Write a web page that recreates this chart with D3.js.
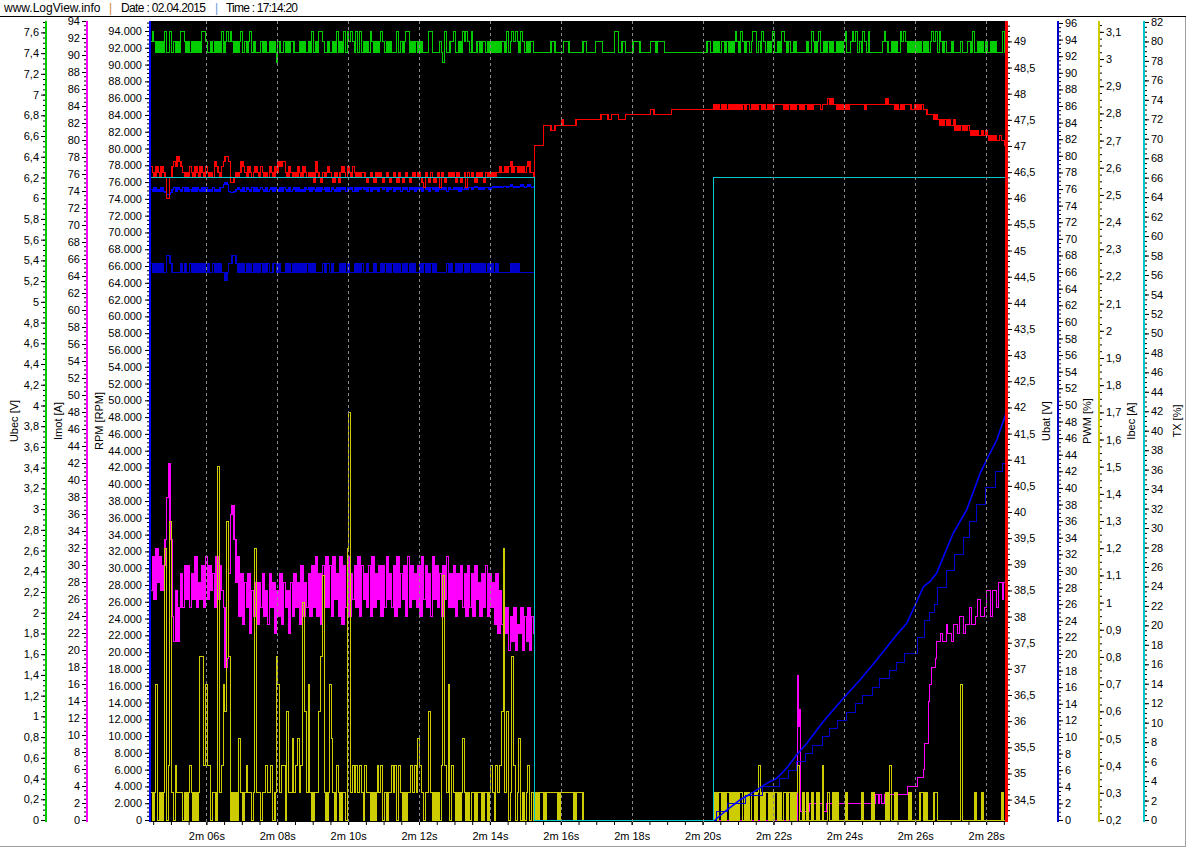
<!DOCTYPE html>
<html><head><meta charset="utf-8">
<script src="https://cdn.jsdelivr.net/npm/d3@7"></script>
<style>
html,body{margin:0;padding:0;background:#fff;}
svg{display:block;font-family:"Liberation Sans",Arial,sans-serif;}
</style></head><body>
<svg id="chart" width="1186" height="848"></svg>
<script>
// ---------------- DATA ----------------
const T0 = 124.42, DT = 0.05;               // first sample time (s) and sample step (s)
const timeTicks = [126,128,130,132,134,136,138,140,142,144,146,148];
const timeTickLabels = ["2m 06s","2m 08s","2m 10s","2m 12s","2m 14s","2m 16s","2m 18s","2m 20s","2m 22s","2m 24s","2m 26s","2m 28s"];

// Ubec [V] (green): level keys 0..3
const ubecLevels = [7.31, 7.41, 7.51, 7.61];
const ubecSeq = [
 "2321212131","1312121332","1212121213","3211212121","3123232121",
 "2312123121","1121211212","1021121212","2111212112","1312133211",
 "2112131213","1323213131","2121321212","3212121113","1212331212",
 "2121111331","1112103112","2311213232","1311221221","2121212122",
 "1312323213","2121221111","1111112211","1112221111","1111221111",
 "1222211111","1133112211","1122221111","1122212222","1111111111",
 "1111111111","1111221121","2122121212","3213212212","3312132121",
 "2311213321","2112111111","2113212311","2121211212","1231123231",
 "2132131111","1112321121","2113232121","2121212121","2323132121",
 "1121111211","1221311212","1211212111","1313"].join("");

// Ubat [V] (red): keys a..u
const ubatKeys = "abcdefghijklmnopqrstu";
const ubatLevels = [45.9,46.0,46.1,46.2,46.3,46.4,46.5,46.6,46.7,46.8,46.9,47.0,47.1,47.2,47.3,47.4,47.5,47.6,47.7,47.8,47.9];
const ubatSeq = [
 "hgfhgfhgfb","bfhihjihgf","gfhgfhgfhg","fhgfgfihgf","hijjieefgf",
 "gihgfhgfgh","gfhgfgfhgf","hgihiigfhg","fgfhgfhgfg","fgeigfegfg",
 "hgfegfeghg","fhgfhgfgfg","gfefgfegfg","fefgfefgfe","gfefgfefgf",
 "fgfedgfegf","efgdgfefgf","gfegfefgdg","fgfegfgfeg","fgfgfgghgg",
 "hghighhghg","hghiggflll","llppppoopp","ppqppppppp","qqqqqqqqqq",
 "qqqqrrrrqq","rrrrqqqqrr","rrrrrrrrrr","rrssrrrrrr","rrrrssssss",
 "ssssssssss","ssssssssts","tststststs","tstststtst","ststtststs",
 "tstttttsts","tststtstst","tststtttst","ttututtsts","tststttttt",
 "tttstttttt","tttttutttt","stststttts","stststssrr","rrqrqpqpqp",
 "qppqopopop","oponononno","nonmnmnmmn","mmll"].join("");

// RPM (blue): keys 0..7, first part of the log
const rpmLevels = [74500,74700,74900,75100,75300,75500,75700,75900];
const rpmSeq = [
 "3242324210","0134243242","4232424324","2423242324","4676211234",
 "3242432424","2343242342","4324243242","3424232434","2432424342",
 "4243242434","2434242434","3424243424","4342434243","4243424342",
 "4342434243","4243434243","3434243434","4345434344","4345454545",
 "54565454565456545"].join("");
const rpmRampT = [140.35,140.68,141.05,141.38,141.81,142.09,142.37,142.65,142.94,143.40,143.97,144.44,144.91,145.47,145.76,146.04,146.23,146.41,146.60,147.07,147.45,147.83,148.01,148.30,148.56];
const rpmRampV = [0,1190,2380,3180,4370,4970,6160,7740,9140,11710,14500,16680,19060,22040,23430,26000,27800,28390,29390,34160,36930,41300,42890,45270,48450];

// PWM [%] (dark blue): keys 0..3
const pwmLevels = [65,66,67,68];
const pwmSeq = [
 "2121212113","3211111212","1121212121","2121121212","1101223321",
 "2121212121","2121212112","2121112121","2121212121","2121111212",
 "2121111212","1211121212","1121112111","2121212121","2121212121",
 "1121212121","2111111212","1121212121","2121212121","2121121111",
 "11121212111111111"].join("");
const pwmStairT = [135.27,140.38,140.69,141.20,141.70,142.18,142.41,142.66,142.89,143.11,143.37,143.59,143.82,144.07,144.30,144.52,144.78,145.00,145.26,145.48,145.71,146.05,146.27,146.39,146.53,146.64,146.89,147.12,147.35,147.54,147.74,147.97,148.25,148.47,148.60];
const pwmStairV = [0,1,2,3,4,5,6,7,8,9,10,11,12,13,14,15,16,17,18,19,20,22,24,25,26,28,30,32,34,36,38,40,42,43,43];

// Imot [A] (magenta)
const imotSeq = [
 27,31,26,32,28,31,27,30,33,38, 42,33,24,21,27,21,25,29,25,30,
 26,30,25,29,26,31,25,28,26,30, 25,31,26,30,27,29,25,31,26,30,
 27,25,18,19,29,36,37,33,28,31, 24,29,23,28,25,29,22,27,24,28,
 23,28,25,29,24,27,23,29,25,28, 22,27,24,29,23,28,25,27,22,28,
 24,29,25,28,23,30,24,28,25,29, 24,30,25,31,24,29,23,30,25,31,
 25,30,24,31,26,29,24,31,23,30, 25,31,24,29,26,30,25,31,24,30,
 26,29,25,30,24,31,25,29,26,30, 24,30,25,31,26,29,25,30,24,31,
 25,29,26,30,24,31,25,30,26,29, 25,30,24,31,26,30,25,29,24,31,
 26,30,25,29,24,30,26,31,25,29, 25,30,24,29,26,30,25,29,24,30,
 25,29,24,30,26,28,24,29,25,30, 24,29,25,28,23,29,22,27,23,25,
 22,25,20,24,21,25,20,23,22,25,20,24,21,25,20,24,22];
const imotLateT = [142.68,142.705,142.73,142.76,143.03,143.40,143.50,144.78,144.835,144.89,144.95,145.00,145.06,145.12,145.17,145.23,145.79,146.07,146.22,146.27,146.36,146.41,146.47,146.56,146.61,146.70,146.78,146.87,146.92,147.01,147.09,147.18,147.26,147.35,147.43,147.52,147.60,147.69,147.77,147.85,147.94,148.02,148.11,148.19,148.28,148.36,148.45,148.50,148.60];
const imotLateV = [17,11,13,1,2,1,2,3,2,3,2,3,2,3,2,3,4,5,6,9,14,16,18,19,21,22,21,23,22,21,23,22,24,22,23,25,23,24,26,24,25,27,24,27,25,28,26,28,28];

// Ibec [A] (yellow): keys 2..9,a..h
const ibecKeys = "23456789abcdefgh";
const ibecLevels = [0.2,0.3,0.4,0.5,0.6,0.7,0.8,0.9,1.0,1.1,1.2,1.3,1.4,1.5,1.6,1.7];
const ibecSeq = [
 "32372323c2","4d32433323","2343232388","47442332f3","476d823232",
 "532343323c","3323343342","3873442633","534534a637","3233368b32",
 "3753243233","2ch3434343","2433232343","4232334342","4323233434",
 "3543233632","32324b4372","4323235323","2332333233","234324346c",
 "3623842352","3234232323","3323333333","2333333332","3333222222",
 "2222222222","2222222222","2222222222","2222222222","2222222222",
 "2222222222","2222222232","3323233232","3233232323","3234232332",
 "3233232332","3232342232","3223223224","2232232322","2232222222",
 "2322222322","2222232422","3222222232","2222332322","2233222222",
 "2222222722","2222232223","2222222222","3222"].join("");

// TX [%] (cyan)
const txT = [124.42, 135.25, 140.30, 148.60];
const txV = [66, 0, 66, 66];

// ---------------- CHART ----------------
const svg = d3.select("#chart");
svg.append("rect").attr("width",1186).attr("height",848).attr("fill","#fff");

// header
const hdr = svg.append("g").attr("font-size","12px").attr("fill","#000");
hdr.append("text").attr("x",4).attr("y",12).text("www.LogView.info");
hdr.append("text").attr("x",109).attr("y",12).attr("fill","#d08a3a").text("|");
hdr.append("text").attr("x",121).attr("y",12).attr("textLength",85).text("Date : 02.04.2015");
hdr.append("text").attr("x",215).attr("y",12).attr("fill","#6b9bd6").text("|");
hdr.append("text").attr("x",226).attr("y",12).attr("textLength",72).text("Time : 17:14:20");
svg.append("line").attr("x1",0).attr("x2",1186).attr("y1",16.5).attr("y2",16.5).attr("stroke","#000");
svg.append("line").attr("x1",0).attr("x2",1186).attr("y1",846.5).attr("y2",846.5).attr("stroke","#a0a0a0");
svg.append("line").attr("x1",1185.5).attr("x2",1185.5).attr("y1",17).attr("y2",847).attr("stroke","#a0a0a0");

const PL = 151, PR = 1005, PT = 21, PB = 822;
const x = d3.scaleLinear().domain([124.41, 148.56]).range([150, 1006]);
const yUbec = d3.scaleLinear().domain([0, 7.71]).range([820, 21]);
const yImot = d3.scaleLinear().domain([0, 94]).range([820, 21]);
const yRpm  = d3.scaleLinear().domain([0, 95190]).range([820, 21]);
const yUbat = d3.scaleLinear().domain([34.11, 49.39]).range([820, 21]);
const yPwm  = d3.scaleLinear().domain([0, 96.24]).range([820, 21]);
const yIbec = d3.scaleLinear().domain([0.2, 3.14]).range([820, 21]);
const yTx   = d3.scaleLinear().domain([0, 82.1]).range([820, 21]);

svg.append("rect").attr("x",PL).attr("y",PT).attr("width",PR-PL).attr("height",PB-PT).attr("fill","#000");
svg.append("defs").append("clipPath").attr("id","clip").append("rect")
  .attr("x",PL).attr("y",PT).attr("width",PR-PL).attr("height",PB-PT);
const plot = svg.append("g").attr("clip-path","url(#clip)");

function decode(seq, keys, levels){
  return seq.split("").map((c,i)=>({t:T0+i*DT, v:levels[keys.indexOf(c)]}));
}
function pairs(ts, vs){ return ts.map((t,i)=>({t, v:vs[i]})); }
// step line; rapid flicker between neighbouring levels gets slightly wider
// transition strokes so it renders as filled blocks like the logger display
function drawStep(pts, y, color, denseCount, barOk){
  const g = plot.append("g");
  g.append("path").datum(pts).attr("fill","none").attr("stroke",color)
    .attr("stroke-width",1).attr("shape-rendering","crispEdges")
    .attr("d", d3.line().x(d=>x(d.t)).y(d=>y(d.v)).curve(d3.curveStepAfter));
  const trans = [];
  for (let i = 1; i < Math.min(denseCount||0, pts.length); i++) {
    const a = pts[i-1].v, b = pts[i].v;
    if (a !== b && (!barOk || barOk(a, b))) trans.push([pts[i].t, a, b]);
  }
  g.selectAll("rect").data(trans).enter().append("rect")
    .attr("x", d => x(d[0]) - 0.4).attr("width", 1.5)
    .attr("y", d => Math.min(y(d[1]), y(d[2])) - 0.5)
    .attr("height", d => Math.abs(y(d[1]) - y(d[2])) + 1)
    .attr("fill", color).attr("shape-rendering","crispEdges");
}
const tEnd = n => T0 + n*DT;

// Imot
const imotPts = imotSeq.map((v,i)=>({t:T0+i*DT, v}))
  .concat([{t:tEnd(imotSeq.length), v:0}]).concat(pairs(imotLateT, imotLateV));
drawStep(imotPts, yImot, "#ff00ff", imotSeq.length, (a,b)=>Math.abs(a-b) <= 9);

// Ibec
const ibecPts = decode(ibecSeq, ibecKeys, ibecLevels);
ibecPts.push({t:tEnd(ibecPts.length), v:ibecPts[ibecPts.length-1].v});
drawStep(ibecPts, yIbec, "#cccc00", ibecPts.length, (a,b)=>Math.max(a,b) <= 0.31);

// PWM
const pwmPts = decode(pwmSeq, "0123", pwmLevels).concat(pairs(pwmStairT, pwmStairV));
drawStep(pwmPts, yPwm, "#0000cc", pwmSeq.length);

// RPM
const rpmPts = decode(rpmSeq, "01234567", rpmLevels)
  .concat([{t:tEnd(rpmSeq.length), v:0},{t:rpmRampT[0], v:0}]);
drawStep(rpmPts, yRpm, "#0000ff", rpmSeq.length);
plot.append("path").datum(pairs(rpmRampT, rpmRampV)).attr("fill","none").attr("stroke","#0000ff")
  .attr("stroke-width",1.6).attr("d", d3.line().x(d=>x(d.t)).y(d=>yRpm(d.v)));

// Ubec
const ubecPts = decode(ubecSeq, "0123", ubecLevels);
ubecPts.push({t:tEnd(ubecPts.length), v:ubecPts[ubecPts.length-1].v});
drawStep(ubecPts, yUbec, "#00cc00", ubecPts.length, (a,b)=>Math.min(a,b) >= 7.4 && Math.max(a,b) <= 7.52);

// Ubat
const ubatPts = decode(ubatSeq, ubatKeys, ubatLevels);
ubatPts.push({t:tEnd(ubatPts.length), v:ubatPts[ubatPts.length-1].v});
drawStep(ubatPts, yUbat, "#ff0000", ubatPts.length, (a,b)=>Math.abs(a-b) <= 0.25);

// TX
drawStep(pairs(txT, txV), yTx, "#00c8c8", 0);

// grid
plot.selectAll("line.grid").data(timeTicks).enter().append("line")
  .attr("x1",d=>Math.round(x(d))+0.5).attr("x2",d=>Math.round(x(d))+0.5)
  .attr("y1",PT).attr("y2",PB).attr("stroke","#8a8a8a").attr("stroke-dasharray","3,3");

// ---------------- AXES ----------------
const comma = v => String(v).replace(".", ",");
function styleAxis(g){
  g.select(".domain").remove();
  g.attr("color","#000").attr("font-size","11px").attr("font-family","'Liberation Sans',Arial,sans-serif");
  g.selectAll("text").attr("fill","#000");
}
function yAxis(o){
  const mk = () => o.side === "left" ? d3.axisLeft(o.scale) : d3.axisRight(o.scale);
  const g1 = svg.append("g").attr("transform",`translate(${o.pos},0)`)
    .call(mk().tickValues(o.minors).tickSize(2).tickFormat(""));
  styleAxis(g1);
  const g2 = svg.append("g").attr("transform",`translate(${o.pos},0)`)
    .call(mk().tickValues(o.majors).tickSize(4).tickPadding(o.pad||3).tickFormat(o.fmt));
  styleAxis(g2);
  svg.append("rect").attr("x",o.lineX).attr("y",PT).attr("width",o.lineW).attr("height",PB-PT).attr("fill",o.color);
  svg.append("text").attr("transform",`translate(${o.titleX},421) rotate(-90)`)
    .attr("text-anchor","middle").attr("dy","0.35em").attr("font-size","11px").attr("fill","#000").text(o.title);
}
const rng = (n, a, s, dec) => d3.range(n).map(i => +(a + i*s).toFixed(dec));

yAxis({scale:yUbec, pos:45, side:"left", majors:rng(39,0,0.2,1), minors:rng(155,0,0.05,2), fmt:comma,
  color:"#00cc00", lineX:45, lineW:2, title:"Ubec [V]", titleX:14.5, pad:2});
yAxis({scale:yImot, pos:86, side:"left", majors:rng(48,0,2,0), minors:rng(189,0,0.5,1), fmt:d=>String(d),
  color:"#ff00ff", lineX:86, lineW:2, title:"Imot [A]", titleX:58.5, pad:2});
yAxis({scale:yRpm, pos:149, side:"left", majors:rng(48,0,2000,0), minors:rng(191,0,500,0),
  fmt:d=> d===0 ? "0" : d3.format(",")(d).replace(/,/g,"."),
  color:"#0000ff", lineX:149, lineW:2, title:"RPM [RPM]", titleX:99.5, pad:3});
yAxis({scale:yUbat, pos:1008, side:"right", majors:rng(30,34.5,0.5,1), minors:rng(152,34.2,0.1,1), fmt:comma,
  color:"#ff0000", lineX:1005, lineW:3, title:"Ubat [V]", titleX:1046, pad:2});
yAxis({scale:yPwm, pos:1059, side:"right", majors:rng(49,0,2,0), minors:rng(193,0,0.5,1), fmt:d=>String(d),
  color:"#0000cc", lineX:1057, lineW:2, title:"PWM [%]", titleX:1087, pad:2});
yAxis({scale:yIbec, pos:1100, side:"right", majors:rng(30,0.2,0.1,1), minors:rng(118,0.2,0.025,3), fmt:comma,
  color:"#cccc00", lineX:1098, lineW:2, title:"Ibec [A]", titleX:1131, pad:2});
yAxis({scale:yTx, pos:1145, side:"right", majors:rng(42,0,2,0), minors:rng(165,0,0.5,1), fmt:d=>String(d),
  color:"#00c8c8", lineX:1143, lineW:2, title:"TX [%]", titleX:1177, pad:2});

// x axis
const minorTimes = rng(49, 124.5, 0.5, 1);
const gx1 = svg.append("g").attr("transform",`translate(0,${PB})`)
  .call(d3.axisBottom(x).tickValues(minorTimes).tickSize(3).tickFormat(""));
styleAxis(gx1);
const gx2 = svg.append("g").attr("transform",`translate(0,${PB})`)
  .call(d3.axisBottom(x).tickValues(timeTicks).tickSize(3).tickPadding(7).tickFormat((d,i)=>timeTickLabels[i]));
styleAxis(gx2);
</script></body></html>
